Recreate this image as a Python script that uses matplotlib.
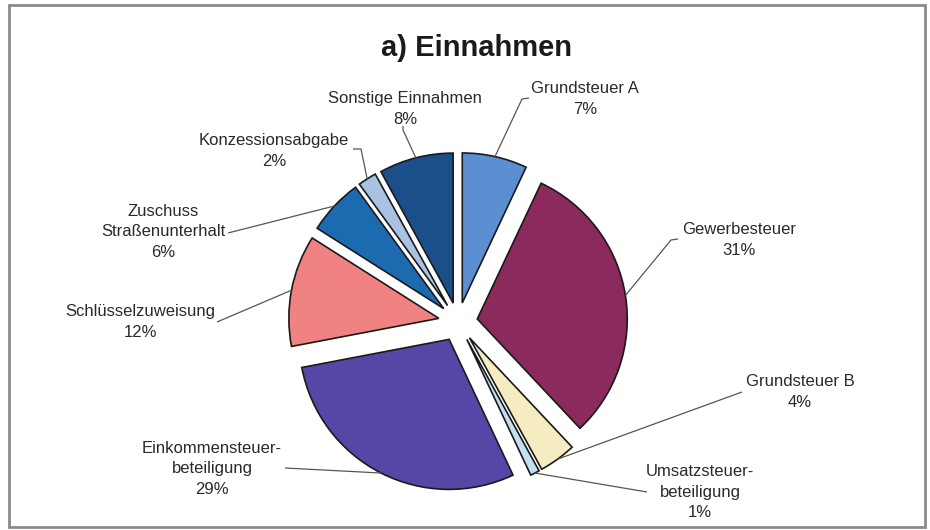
import numpy as np
import matplotlib
matplotlib.use("Agg")
import matplotlib.pyplot as plt
from matplotlib.patches import Rectangle

plt.rcParams['font.family'] = ['Liberation Sans', 'DejaVu Sans']

# Daten (im Uhrzeigersinn ab 12 Uhr)
kategorien = ['Grundsteuer A', 'Gewerbesteuer', 'Grundsteuer B', 'Umsatzsteuer-\nbeteiligung',
              'Einkommensteuer-\nbeteiligung', 'Schlüsselzuweisung', 'Zuschuss\nStraßenunterhalt',
              'Konzessionsabgabe', 'Sonstige Einnahmen']
anteile = [7, 31, 4, 1, 29, 12, 6, 2, 8]
farben = ['#5b8fd2', '#8c2a5e', '#f6ecc2', '#c2e0ef', '#5646a6', '#f08282', '#1c6bb0',
          '#a9c1e2', '#1b4f8a']

# Layout in Pixeln (Bild 930x530), Mittelpunkt und Radius der Torte
W, H = 930, 530
cx, cy, R = 458, 322, 150
expl = 0.13
# Beschriftungsmitte, Knick der Linie (oder None) und Linienende an der Beschriftung
label_pos = [(585, 99), (739, 240), (800, 392), (700, 492), (212, 469),
             (140, 322), (163, 232), (274, 151), (405, 109)]
line_elbow = [(522, 99), (671, 240), None, None, None, None, None, (361, 149), (403, 130)]
line_anchor = [(529, 98), (678, 239), (742, 392), (647, 492), (285, 468),
               (217, 322), (228, 233), (353, 149), (403, 126)]


def px(x, y):
    return (x - cx) / R, (cy - y) / R


fig = plt.figure(figsize=(W / 100, H / 100), dpi=100)
ax = fig.add_axes([0, 0, 1, 1])

wedges, _ = ax.pie(anteile, colors=farben, startangle=90, counterclock=False,
                   explode=[expl] * len(anteile), radius=1.0,
                   wedgeprops=dict(edgecolor='#1a1a1a', linewidth=1.2))

ax.set_aspect('equal')
ax.set_xlim(-cx / R, (W - cx) / R)
ax.set_ylim(-(H - cy) / R, cy / R)
ax.axis('off')

# Beschriftungen mit Verbindungslinien
for w, name, wert, lp, le, la in zip(wedges, kategorien, anteile, label_pos, line_elbow, line_anchor):
    mid = np.deg2rad((w.theta1 + w.theta2) / 2)
    r = 1.0 + expl
    xs, ys = [r * np.cos(mid)], [r * np.sin(mid)]
    for p in (le, la):
        if p is not None:
            x1, y1 = px(*p)
            xs.append(x1)
            ys.append(y1)
    ax.plot(xs, ys, color='#555555', lw=0.9, solid_capstyle='butt')
    tx, ty = px(*lp)
    ax.text(tx, ty, f'{name}\n{wert}%', ha='center', va='center', fontsize=12,
            color='#2a2a2a', linespacing=1.45)

fig.text(476 / W, 1 - 48 / H, 'a) Einnahmen', ha='center', va='center',
         fontsize=21, fontweight='bold', color='#1a1a1a')

# grauer Rahmen
fig.patches.append(Rectangle((9 / W, 1 - 527 / H), 916 / W, 522 / H, transform=fig.transFigure,
                             fill=False, edgecolor='#8a8a8a', lw=2))

fig.savefig('out.png', dpi=100)
